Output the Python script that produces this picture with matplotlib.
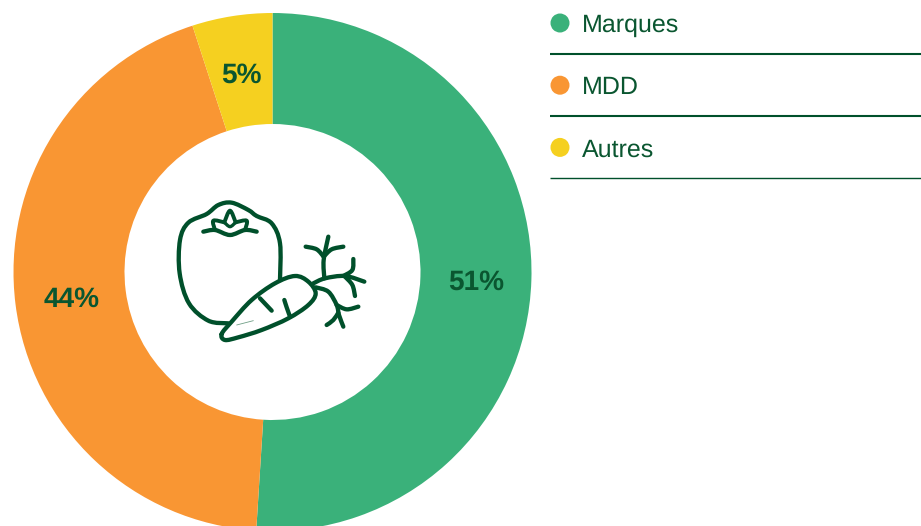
import matplotlib
matplotlib.use("Agg")
from matplotlib import pyplot as plt
from matplotlib.patches import Circle, PathPatch
from matplotlib.path import Path
import numpy as np

categories = ["Marques", "MDD", "Autres"]
values = [51, 44, 5]
colors = ["#3ab17a", "#f99633", "#f5d020"]
label_pos = [(476, 282), (72, 300), (241, 75)]
rule_y = [53.5, 115.5, 178]
rule_w = [1.5, 1.5, 1.0]
dark = "#00502b"
label_dark = "#0a5630"

plt.rcParams['font.family'] = ['Liberation Sans', 'DejaVu Sans']
plt.rcParams['text.hinting'] = 'no_hinting'
plt.rcParams['text.hinting_factor'] = 1
plt.rcParams['text.kerning_factor'] = 0

H = 526
fig = plt.figure(figsize=(9.21, 5.26), dpi=100)
ax = fig.add_axes([0, 0, 1, 1])

# donut
ax.pie(values, colors=colors, center=(272.5, H - 272), radius=259, startangle=90,
	counterclock=False, wedgeprops={'width': 111, 'linewidth': 0})
ax.set_xlim(0, 921)
ax.set_ylim(0, H)
ax.set_aspect('equal')
ax.axis('off')

for i in range(len(values)):
	ax.text(label_pos[i][0], H - label_pos[i][1], str(values[i]) + "%", color=label_dark, fontsize=20.2,
		fontweight='bold', ha='center', va='center')

# legend
for i in range(len(categories)):
	y = 23 + i * 62.2
	ax.add_patch(Circle((560, H - y), 9.5, color=colors[i], lw=0))
	ax.text(581.5, H - y - 2.5, categories[i], color=label_dark, fontsize=17.9, ha='left', va='center')
	ax.plot([550, 921], [H - rule_y[i], H - rule_y[i]], color=dark, lw=rule_w[i], solid_capstyle='butt')


# icon, points taken from the zoomed crop (3x, origin 165,190)
def smooth(points, closed=False):
	p = np.array(points, dtype=float)
	p = np.column_stack([165 + p[:, 0] / 3, H - (190 + p[:, 1] / 3)])
	n = len(p)
	verts = [p[0]]
	codes = [Path.MOVETO]
	for i in range(n if closed else n - 1):
		if closed:
			p0, p1, p2, p3 = p[(i - 1) % n], p[i], p[(i + 1) % n], p[(i + 2) % n]
		else:
			p0, p1, p2, p3 = p[max(i - 1, 0)], p[i], p[i + 1], p[min(i + 2, n - 1)]
		verts += [p1 + (p2 - p0) / 6, p2 - (p3 - p1) / 6, p2]
		codes += [Path.CURVE4] * 3
	return Path(verts, codes)


def stroke(points, closed=False, lw=3.1, color=dark):
	ax.add_patch(PathPatch(smooth(points, closed), fill=False, edgecolor=color, lw=lw,
		capstyle='round', joinstyle='round'))


# pepper
stroke([(190, 400), (130, 392), (72, 340), (44, 250), (45, 150), (70, 98), (125, 72), (160, 45),
	(200, 38), (250, 60), (275, 78), (320, 100), (345, 160), (345, 270)])
stroke([(115, 125), (150, 120), (195, 135), (240, 120), (275, 125)])
stroke([(150, 120), (145, 92), (178, 97)], lw=2.8)
stroke([(178, 97), (195, 62), (212, 97)], lw=2.8)
stroke([(212, 97), (245, 92), (240, 120)], lw=2.8)
stroke([(178, 97), (195, 110), (212, 97)], lw=2.4)
# carrot
stroke([(170, 432), (200, 395), (260, 330), (330, 280), (390, 258), (430, 275), (452, 310),
	(430, 345), (370, 385), (290, 420), (220, 442), (180, 450)], closed=True)
stroke([(285, 325), (320, 362)])
stroke([(358, 330), (365, 352), (375, 380)])
stroke([(215, 405), (265, 392)], lw=0.6, color="#6f9f86")
# carrot greens
stroke([(445, 280), (480, 265), (540, 258), (598, 275)])
stroke([(478, 265), (476, 210), (490, 140)])
stroke([(476, 200), (455, 178), (422, 170)])
stroke([(476, 200), (500, 178), (535, 170)])
stroke([(535, 258), (562, 240), (565, 207)])
stroke([(540, 260), (562, 285), (570, 318)])
stroke([(452, 292), (490, 305), (515, 345), (522, 375), (535, 410)])
stroke([(515, 345), (545, 358), (580, 350)])
stroke([(520, 368), (505, 390), (485, 405)])

fig.savefig("out.png", dpi=100)
